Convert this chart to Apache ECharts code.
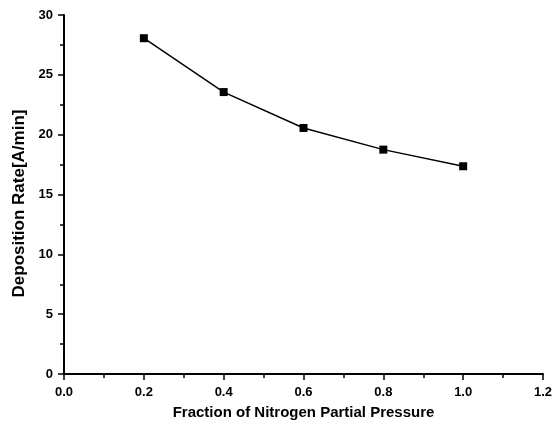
<!DOCTYPE html>
<html><head><meta charset="utf-8">
<script src="https://cdn.jsdelivr.net/npm/echarts@6/dist/echarts.min.js"></script>
<style>html,body{margin:0;padding:0;background:#fff}#c{width:559px;height:425px}</style>
</head><body><div id="c"></div>
<script>
const fractions = [0.2, 0.4, 0.6, 0.8, 1.0];
const depositionRate = [28.06, 23.56, 20.56, 18.75, 17.36];
const xTitle = 'Fraction of Nitrogen Partial Pressure';
const yTitle = 'Deposition Rate[A/min]';

const chart = echarts.init(document.getElementById('c'), null, {renderer: 'canvas'});
const font = 'Liberation Sans, Arial, sans-serif';
chart.setOption({
  animation: false,
  backgroundColor: '#fff',
  grid: {left: 64, right: 16, top: 15, bottom: 50, containLabel: false},
  xAxis: {
    type: 'value', min: 0, max: 1.2, interval: 0.2,
    name: xTitle, nameLocation: 'middle', nameGap: 31,
    nameTextStyle: {fontFamily: font, fontWeight: 'bold', fontSize: 15, color: '#000'},
    axisLine: {show: true, onZero: false, lineStyle: {color: '#000', width: 2}},
    axisTick: {show: true, length: 6, lineStyle: {color: '#000', width: 1.5}},
    minorTick: {show: true, splitNumber: 2, length: 4, lineStyle: {color: '#000', width: 1.5}},
    axisLabel: {fontFamily: font, fontWeight: 'bold', fontSize: 13, color: '#000', margin: 12,
      formatter: v => v.toFixed(1)},
    splitLine: {show: false}
  },
  yAxis: {
    type: 'value', min: 0, max: 30, interval: 5,
    name: yTitle, nameLocation: 'middle', nameGap: 35, nameRotate: 90,
    nameTextStyle: {fontFamily: font, fontWeight: 'bold', fontSize: 17, color: '#000', padding: [0, 18, 0, 0]},
    axisLine: {show: true, onZero: false, lineStyle: {color: '#000', width: 2}},
    axisTick: {show: true, length: 6, lineStyle: {color: '#000', width: 1.5}},
    minorTick: {show: true, splitNumber: 2, length: 4, lineStyle: {color: '#000', width: 1.5}},
    axisLabel: {fontFamily: font, fontWeight: 'bold', fontSize: 13, color: '#000', margin: 11},
    splitLine: {show: false}
  },
  series: [{
    type: 'line',
    data: fractions.map((x, i) => [x, depositionRate[i]]),
    symbol: 'rect', symbolSize: 8,
    itemStyle: {color: '#000'},
    lineStyle: {color: '#000', width: 1.5}
  }]
});
</script></body></html>
